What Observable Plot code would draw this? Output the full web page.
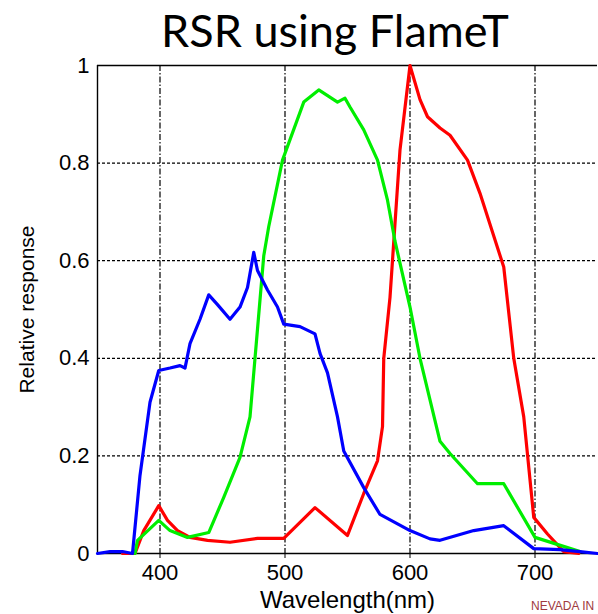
<!DOCTYPE html>
<html>
<head>
<meta charset="utf-8">
<script src="https://cdn.jsdelivr.net/npm/d3@7"></script>
<script src="https://cdn.jsdelivr.net/npm/@observablehq/plot@0.6"></script>
<style>
  html, body { margin: 0; padding: 0; background: #fff; }
  #wrap { position: relative; width: 598px; height: 614px; overflow: hidden; }
  #title { height: 44px; line-height: 44px; padding-left: 72px; width: 526px; text-align: center;
           font-family: Lato, "Open Sans", sans-serif; font-size: 45px; color: #000; position: relative; top: 8px; }
  #note { position: absolute; left: 531px; top: 599px; font-family: "Liberation Sans", Arial, sans-serif;
          font-size: 12px; color: #a03a40; white-space: nowrap; }
  svg { display: block; }
</style>
</head>
<body>
<div id="wrap">
  <div id="title">RSR using FlameT</div>
  <div id="chart"></div>
  <div id="note">NEVADA IN</div>
</div>
<script>
// Wavelength (nm) and relative response for each channel
const blueX = [350, 360, 370, 378, 384, 392, 399, 408, 416, 420, 424, 432, 439, 446, 456, 464, 470, 475, 478, 486, 494, 499, 512, 524, 528, 534, 542, 547, 563, 576, 600, 616, 624, 651, 675, 699, 720, 736, 750];
const blueY = [0.0, 0.004, 0.004, 0.0, 0.16, 0.31, 0.375, 0.38, 0.385, 0.38, 0.43, 0.48, 0.53, 0.51, 0.48, 0.505, 0.545, 0.617, 0.58, 0.54, 0.505, 0.47, 0.465, 0.45, 0.41, 0.37, 0.28, 0.21, 0.135, 0.08, 0.047, 0.03, 0.027, 0.047, 0.057, 0.01, 0.008, 0.004, 0.0];

const greenX = [380, 382, 399, 408, 422, 439, 451, 464, 472, 476, 480, 483, 487, 498, 515, 527, 542, 548, 552, 563, 574, 582, 588, 600, 608, 624, 632, 654, 675, 700, 726, 736];
const greenY = [0.0, 0.027, 0.068, 0.047, 0.033, 0.043, 0.115, 0.197, 0.28, 0.40, 0.52, 0.61, 0.67, 0.806, 0.925, 0.95, 0.925, 0.933, 0.915, 0.868, 0.806, 0.724, 0.64, 0.505, 0.40, 0.23, 0.205, 0.143, 0.143, 0.033, 0.012, 0.004];

const redX = [370, 380, 387, 399, 406, 414, 424, 438, 456, 478, 499, 524, 550, 563, 574, 578, 579, 584, 592, 600, 608, 614, 624, 632, 646, 656, 675, 683, 691, 699, 710, 723, 735];
const redY = [0.0, 0.0, 0.047, 0.098, 0.068, 0.047, 0.033, 0.027, 0.023, 0.031, 0.031, 0.094, 0.037, 0.123, 0.19, 0.26, 0.40, 0.525, 0.827, 1.0, 0.93, 0.895, 0.872, 0.857, 0.806, 0.738, 0.587, 0.40, 0.28, 0.074, 0.04, 0.004, 0.0];

const xTicks = [400, 500, 600, 700];
const yTicks = [0, 0.2, 0.4, 0.6, 0.8, 1];
const yTickLabels = ["0", "0.2", "0.4", "0.6", "0.8", "1"];

const toRows = (xs, ys) => xs.map((x, i) => ({x, y: ys[i]}));
const blue = toRows(blueX, blueY);
const green = toRows(greenX, greenY);
const red = toRows(redX, redY);

const font = "'Liberation Sans', Arial, sans-serif";

const chart = Plot.plot({
  width: 598,
  height: 570,
  marginTop: 21,
  marginBottom: 61,
  marginLeft: 97,
  marginRight: 1,
  style: {fontFamily: font, background: "#fff", color: "#000"},
  x: {domain: [350, 750]},
  y: {domain: [0, 1]},
  marks: [
    Plot.gridX(xTicks, {stroke: "#000", strokeOpacity: 1, strokeWidth: 1.2, strokeDasharray: "6,2,1.5,2"}),
    Plot.gridY(yTicks.slice(1, -1), {stroke: "#000", strokeOpacity: 1, strokeWidth: 1.2, strokeDasharray: "3,2"}),
    Plot.ruleY([0, 1], {stroke: "#000", strokeWidth: 1.4}),
    Plot.ruleX([350], {stroke: "#000", strokeWidth: 1.4}),
    Plot.axisX(xTicks, {tickSize: 5, tickPadding: 6, fontSize: 22, label: null, anchor: "bottom"}),
    Plot.axisY(yTicks, {tickSize: 0, tickPadding: 8, fontSize: 22, label: null, anchor: "left",
      tickFormat: (d) => yTickLabels[yTicks.indexOf(d)]}),
    Plot.line(red, {x: "x", y: "y", stroke: "#ff0000", strokeWidth: 3.2}),
    Plot.line(green, {x: "x", y: "y", stroke: "#00ee00", strokeWidth: 3.2}),
    Plot.line(blue, {x: "x", y: "y", stroke: "#0000ff", strokeWidth: 3.2}),
    Plot.text(["Wavelength(nm)"], {frameAnchor: "bottom", lineAnchor: "middle", textAnchor: "middle", dy: 47, fontSize: 24, fill: "#000"}),
    Plot.text(["Relative response"], {frameAnchor: "left", textAnchor: "middle", lineAnchor: "middle", dx: -70, rotate: -90, fontSize: 21, fill: "#000"})
  ]
});
document.getElementById("chart").appendChild(chart);
</script>
</body>
</html>
